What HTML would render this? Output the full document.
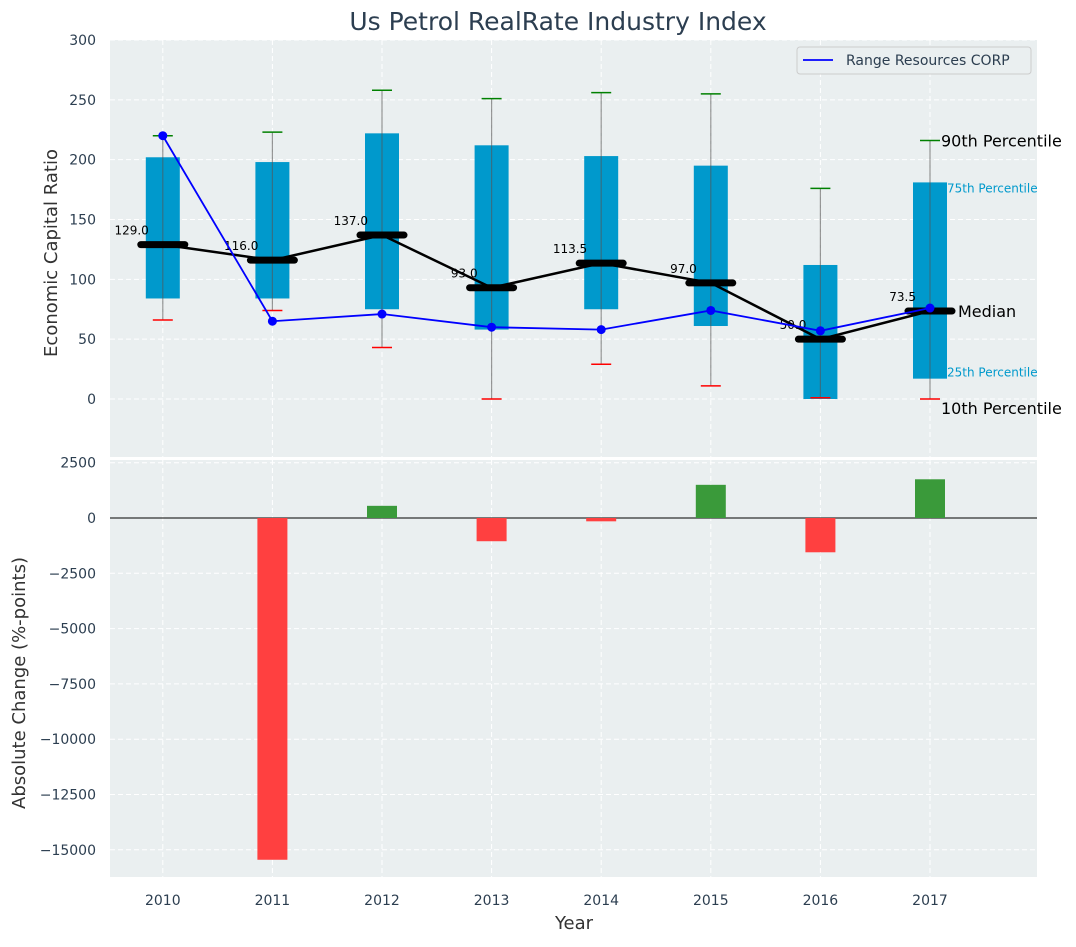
<!DOCTYPE html>
<html><head><meta charset="utf-8"><style>body{margin:0;background:#fff}svg{font-family:"DejaVu Sans","Liberation Sans",sans-serif}</style></head>
<body>
<svg id="c" width="1076" height="942" xmlns="http://www.w3.org/2000/svg"></svg>
<script>
const years=["2010","2011","2012","2013","2014","2015","2016","2017"];
const q25=[84,84,75,58,75,61,0,17];
const q75=[202,198,222,212,203,195,112,181];
const p10=[66,74,43,0,29,11,1,0];
const p90=[220,223,258,251,256,255,176,216];
const medians=[129,116,137,93,113.5,97,50,73.5];
const rangeRes=[220,65,71,60,58,74,57,76];
const changes=[0,-15450,550,-1050,-150,1500,-1550,1750];
const topTicks=[0,50,100,150,200,250,300];
const botTicks=[2500,0,-2500,-5000,-7500,-10000,-12500,-15000];
const NS="http://www.w3.org/2000/svg";
const svg=document.getElementById('c');
function mk(t,a,p){const e=document.createElementNS(NS,t);for(const k in a)e.setAttribute(k,a[k]);(p||svg).appendChild(e);return e;}
const L=110,R=1037;
const x=i=>108+(i+0.5)*109.6;
const yT=v=>399-v*(359/300);
const yB=v=>518-v*(55.3/2500);
let e=mk('rect',{x:L,y:40,width:R-L,height:417,fill:'#eaeff0'});

e=mk('rect',{x:L,y:460,width:R-L,height:417,fill:'#eaeff0'});

topTicks.forEach(t=>{mk('line',{x1:L,x2:R,y1:yT(t),y2:yT(t),stroke:'#fff','stroke-dasharray':'5,3','stroke-width':1});
 e=mk('text',{x:L-14,y:yT(t)+5,'text-anchor':'end','font-size':14,fill:'#2c3e50'});e.textContent=t;
 });
botTicks.forEach(t=>{mk('line',{x1:L,x2:R,y1:yB(t),y2:yB(t),stroke:'#fff','stroke-dasharray':'5,3','stroke-width':1});
 e=mk('text',{x:L-14,y:yB(t)+5,'text-anchor':'end','font-size':14,fill:'#2c3e50'});e.textContent=t<0?'\u2212'+(-t):t;
 });
years.forEach((yr,i)=>{mk('line',{x1:x(i),x2:x(i),y1:40,y2:457,stroke:'#fff','stroke-dasharray':'5,3'});
 mk('line',{x1:x(i),x2:x(i),y1:460,y2:877,stroke:'#fff','stroke-dasharray':'5,3'});
 e=mk('text',{x:x(i),y:905,'text-anchor':'middle','font-size':14,fill:'#2c3e50'});e.textContent=yr;
 });
years.forEach((yr,i)=>{
 e=mk('rect',{x:x(i)-17,y:yT(q75[i]),width:34,height:yT(q25[i])-yT(q75[i]),fill:'#0099cc'});
 
 mk('line',{x1:x(i),x2:x(i),y1:yT(p10[i]),y2:yT(p90[i]),stroke:'#555','stroke-opacity':0.6,'stroke-width':1.2});
 e=mk('line',{x1:x(i)-10,x2:x(i)+10,y1:yT(p90[i]),y2:yT(p90[i]),stroke:'green','stroke-width':1.5});
 
 e=mk('line',{x1:x(i)-10,x2:x(i)+10,y1:yT(p10[i]),y2:yT(p10[i]),stroke:'red','stroke-width':1.5});
 
});
e=mk('polyline',{points:medians.map((m,i)=>x(i)+','+yT(m)).join(' '),fill:'none',stroke:'#000','stroke-width':2.5});

medians.forEach((m,i)=>{e=mk('line',{x1:x(i)-22,x2:x(i)+22,y1:yT(m),y2:yT(m),stroke:'#000','stroke-width':7,'stroke-linecap':'round'});
 
 e=mk('text',{x:x(i)-14,y:yT(m)-10,'text-anchor':'end','font-size':12,fill:'#000'});e.textContent=m.toFixed(1);
 });
e=mk('polyline',{points:rangeRes.map((v,i)=>x(i)+','+yT(v)).join(' '),fill:'none',stroke:'blue','stroke-width':1.8});

rangeRes.forEach((v,i)=>{e=mk('circle',{cx:x(i),cy:yT(v),r:4.5,fill:'blue'});
 });
const ax=x(7);
[[ax+11,yT(p90[7])+6,'90th Percentile',16,'#000'],[ax+17,yT(q75[7])+10,'75th Percentile',12,'#0099cc'],[ax+28,yT(medians[7])+6,'Median',16,'#000'],[ax+17,yT(q25[7])-2,'25th Percentile',12,'#0099cc'],[ax+11,yT(p10[7])+15,'10th Percentile',16,'#000']].forEach(a=>{
 e=mk('text',{x:a[0],y:a[1],'font-size':a[3],fill:a[4]});e.textContent=a[2];
 });
e=mk('g',{});
mk('rect',{x:797,y:47,width:234,height:27,rx:3,fill:'#eaeff0',stroke:'#ccc'},e);
mk('line',{x1:803,x2:833,y1:60,y2:60,stroke:'blue','stroke-width':1.8},e);
let t=mk('text',{x:846,y:65,'font-size':14,fill:'#2c3e50'},e);t.textContent='Range Resources CORP';
mk('line',{x1:L,x2:R,y1:yB(0),y2:yB(0),stroke:'#000','stroke-width':1});
changes.forEach((v,i)=>{if(v===0)return;e=mk('rect',{x:x(i)-15,y:Math.min(yB(v),yB(0)),width:30,height:Math.abs(yB(v)-yB(0)),fill:v>0?'#3a9a3a':'#ff4040'});
 });
e=mk('text',{x:558,y:30,'text-anchor':'middle','font-size':25,fill:'#2c3e50'});e.textContent='Us Petrol RealRate Industry Index';

e=mk('text',{x:0,y:0,'text-anchor':'middle','font-size':18,fill:'#333',transform:'translate(57,253) rotate(-90)'});e.textContent='Economic Capital Ratio';

e=mk('text',{x:0,y:0,'text-anchor':'middle','font-size':18,fill:'#333',transform:'translate(25,683) rotate(-90)'});e.textContent='Absolute Change (%-points)';

e=mk('text',{x:574,y:929,'text-anchor':'middle','font-size':18,fill:'#333'});e.textContent='Year';

</script>
</body></html>
